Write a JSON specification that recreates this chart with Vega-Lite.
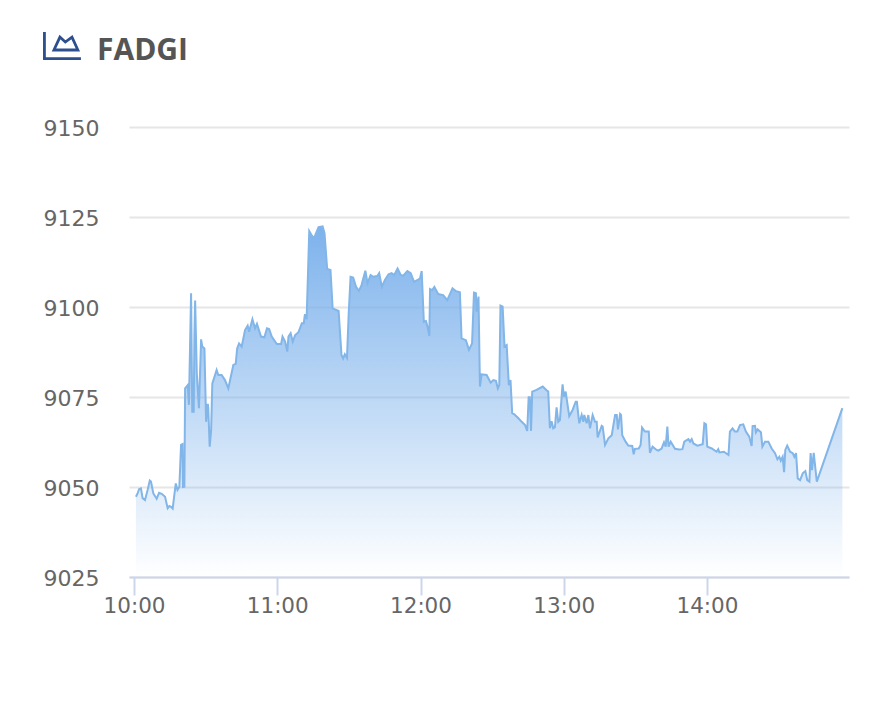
{"$schema":"https://vega.github.io/schema/vega-lite/v6.json","width":720,"height":450,"autosize":"none","padding":{"left":129,"top":127,"right":23,"bottom":151},"background":"white","config":{"view":{"stroke":null}},
"title":{"text":"FADGI","anchor":"start","frame":"group","dx":-32,"offset":-40,"font":"Open Sans","fontSize":30,"fontWeight":"bold","color":"#555555"},
"data":{"format":{"parse":{"t":"date:'%H:%M:%S'"}},"values":[
{"t":"10:00:48","v":9047.3},{"t":"10:01:30","v":9048.2},{"t":"10:02:06","v":9049.4},{"t":"10:02:54","v":9049.6},{"t":"10:03:36","v":9046.9},{"t":"10:04:36","v":9046.4},{"t":"10:05:42","v":9049.2},{"t":"10:06:36","v":9051.8},{"t":"10:07:06","v":9051.5},{"t":"10:08:06","v":9048.2},{"t":"10:09:30","v":9046.7},{"t":"10:10:30","v":9048.4},{"t":"10:11:36","v":9048.1},{"t":"10:13:00","v":9047.3},{"t":"10:14:06","v":9044.1},{"t":"10:14:48","v":9044.7},{"t":"10:15:30","v":9044.5},{"t":"10:16:12","v":9044},{"t":"10:16:48","v":9047.3},{"t":"10:17:30","v":9051},{"t":"10:18:12","v":9049.2},{"t":"10:19:00","v":9050.1},{"t":"10:19:42","v":9061.7},{"t":"10:20:18","v":9061.9},{"t":"10:20:30","v":9050},{"t":"10:21:06","v":9050.1},{"t":"10:21:24","v":9077.4},{"t":"10:22:30","v":9078.3},{"t":"10:23:00","v":9072.8},{"t":"10:23:54","v":9103.8},{"t":"10:24:24","v":9070.9},{"t":"10:25:00","v":9070.9},{"t":"10:25:18","v":9092.2},{"t":"10:25:36","v":9101.8},{"t":"10:26:18","v":9081.6},{"t":"10:27:12","v":9071.9},{"t":"10:28:06","v":9091},{"t":"10:28:36","v":9089},{"t":"10:29:30","v":9088.5},{"t":"10:30:12","v":9068.1},{"t":"10:30:54","v":9073.1},{"t":"10:31:06","v":9071.9},{"t":"10:31:42","v":9061.2},{"t":"10:32:18","v":9065.8},{"t":"10:32:48","v":9078.8},{"t":"10:33:42","v":9080.6},{"t":"10:34:36","v":9082.5},{"t":"10:35:18","v":9081.1},{"t":"10:36:42","v":9081.1},{"t":"10:38:06","v":9079.7},{"t":"10:39:30","v":9077.4},{"t":"10:41:36","v":9083.9},{"t":"10:42:36","v":9084.2},{"t":"10:43:12","v":9088.5},{"t":"10:44:00","v":9089.9},{"t":"10:45:06","v":9089},{"t":"10:46:30","v":9093.6},{"t":"10:47:36","v":9094.8},{"t":"10:48:12","v":9093.1},{"t":"10:49:36","v":9096.6},{"t":"10:50:42","v":9094.1},{"t":"10:51:30","v":9095.3},{"t":"10:53:12","v":9091.8},{"t":"10:54:36","v":9091.6},{"t":"10:55:42","v":9094.1},{"t":"10:56:36","v":9093.9},{"t":"10:57:42","v":9091.8},{"t":"10:59:48","v":9089.7},{"t":"11:01:36","v":9089.7},{"t":"11:02:12","v":9091.8},{"t":"11:03:18","v":9090.4},{"t":"11:04:12","v":9087.6},{"t":"11:04:42","v":9091.8},{"t":"11:05:36","v":9092.7},{"t":"11:06:30","v":9090.4},{"t":"11:07:30","v":9092.2},{"t":"11:08:54","v":9093},{"t":"11:10:18","v":9095.5},{"t":"11:11:06","v":9095.5},{"t":"11:11:36","v":9098},{"t":"11:12:18","v":9096.6},{"t":"11:13:24","v":9121.1},{"t":"11:14:30","v":9119.8},{"t":"11:15:24","v":9119.1},{"t":"11:17:18","v":9122.2},{"t":"11:19:00","v":9122.4},{"t":"11:19:48","v":9120.5},{"t":"11:20:54","v":9110.6},{"t":"11:22:18","v":9110.3},{"t":"11:23:12","v":9099.6},{"t":"11:25:42","v":9098.9},{"t":"11:26:54","v":9086.7},{"t":"11:27:36","v":9085.7},{"t":"11:28:18","v":9086.9},{"t":"11:29:12","v":9085.9},{"t":"11:29:54","v":9097.8},{"t":"11:30:42","v":9108.4},{"t":"11:31:48","v":9108.2},{"t":"11:33:00","v":9105.6},{"t":"11:34:12","v":9104.5},{"t":"11:35:18","v":9106.1},{"t":"11:36:54","v":9110.1},{"t":"11:37:48","v":9106.6},{"t":"11:39:06","v":9108.9},{"t":"11:40:12","v":9108.4},{"t":"11:41:54","v":9108.6},{"t":"11:42:42","v":9109.4},{"t":"11:43:48","v":9105.6},{"t":"11:45:06","v":9107.5},{"t":"11:46:36","v":9109.1},{"t":"11:47:54","v":9109.4},{"t":"11:49:00","v":9108.9},{"t":"11:50:24","v":9110.7},{"t":"11:51:42","v":9108.9},{"t":"11:52:48","v":9108.7},{"t":"11:54:30","v":9110},{"t":"11:55:54","v":9109.4},{"t":"11:57:18","v":9107},{"t":"11:58:48","v":9107.5},{"t":"11:59:48","v":9108},{"t":"12:00:30","v":9110},{"t":"12:01:24","v":9095.9},{"t":"12:02:18","v":9096.1},{"t":"12:03:06","v":9094.1},{"t":"12:03:42","v":9092},{"t":"12:04:00","v":9105},{"t":"12:04:54","v":9104.7},{"t":"12:05:48","v":9105.6},{"t":"12:07:24","v":9103.6},{"t":"12:09:30","v":9103.3},{"t":"12:11:12","v":9101.9},{"t":"12:13:24","v":9105.2},{"t":"12:14:54","v":9104.4},{"t":"12:16:30","v":9104.1},{"t":"12:17:12","v":9091.3},{"t":"12:19:00","v":9090.8},{"t":"12:20:18","v":9088.1},{"t":"12:21:36","v":9089.9},{"t":"12:22:24","v":9104},{"t":"12:23:12","v":9103.8},{"t":"12:23:30","v":9098.7},{"t":"12:24:18","v":9102.9},{"t":"12:24:54","v":9077.9},{"t":"12:25:36","v":9081.3},{"t":"12:27:42","v":9081.1},{"t":"12:29:24","v":9079},{"t":"12:30:30","v":9079.7},{"t":"12:31:36","v":9079.5},{"t":"12:32:24","v":9077.4},{"t":"12:33:00","v":9078.3},{"t":"12:33:30","v":9100.4},{"t":"12:34:24","v":9100.1},{"t":"12:35:12","v":9089},{"t":"12:36:06","v":9089.4},{"t":"12:37:00","v":9078.3},{"t":"12:37:42","v":9079.7},{"t":"12:38:24","v":9070.5},{"t":"12:39:18","v":9070.2},{"t":"12:41:00","v":9069.1},{"t":"12:42:24","v":9068.1},{"t":"12:43:48","v":9067.2},{"t":"12:44:42","v":9065.6},{"t":"12:45:18","v":9074.9},{"t":"12:45:48","v":9074.9},{"t":"12:46:18","v":9065.6},{"t":"12:46:48","v":9076.5},{"t":"12:48:36","v":9077},{"t":"12:51:12","v":9077.9},{"t":"12:52:48","v":9076.9},{"t":"12:53:30","v":9076.5},{"t":"12:54:12","v":9066.3},{"t":"12:54:54","v":9068.3},{"t":"12:55:36","v":9066.3},{"t":"12:56:18","v":9066.6},{"t":"12:57:00","v":9072.1},{"t":"12:57:42","v":9068.1},{"t":"12:58:24","v":9068.6},{"t":"12:59:30","v":9078.5},{"t":"13:00:06","v":9075.1},{"t":"13:00:48","v":9076.5},{"t":"13:02:18","v":9069.7},{"t":"13:03:42","v":9071.4},{"t":"13:05:00","v":9073.7},{"t":"13:05:30","v":9073.7},{"t":"13:06:30","v":9067.7},{"t":"13:07:30","v":9070},{"t":"13:08:12","v":9068.1},{"t":"13:08:36","v":9070},{"t":"13:09:36","v":9067.7},{"t":"13:10:18","v":9070},{"t":"13:11:00","v":9066.3},{"t":"13:12:06","v":9070},{"t":"13:13:06","v":9068.1},{"t":"13:13:48","v":9068.1},{"t":"13:14:12","v":9063.8},{"t":"13:15:54","v":9067},{"t":"13:16:18","v":9066.8},{"t":"13:17:18","v":9061.7},{"t":"13:18:42","v":9063.5},{"t":"13:20:06","v":9064.4},{"t":"13:21:30","v":9070},{"t":"13:22:12","v":9070},{"t":"13:22:42","v":9066},{"t":"13:23:36","v":9070.3},{"t":"13:24:00","v":9070},{"t":"13:24:30","v":9064.4},{"t":"13:25:54","v":9062.6},{"t":"13:27:00","v":9061.5},{"t":"13:28:42","v":9061.4},{"t":"13:29:18","v":9059.1},{"t":"13:29:48","v":9060.6},{"t":"13:31:24","v":9060.7},{"t":"13:32:12","v":9061.7},{"t":"13:32:48","v":9066.5},{"t":"13:34:00","v":9065.4},{"t":"13:35:36","v":9065.4},{"t":"13:36:06","v":9059.5},{"t":"13:37:12","v":9061.2},{"t":"13:38:54","v":9060.3},{"t":"13:39:36","v":9060.1},{"t":"13:41:00","v":9060.7},{"t":"13:42:00","v":9062.4},{"t":"13:42:42","v":9061.2},{"t":"13:43:24","v":9066.8},{"t":"13:43:54","v":9061.2},{"t":"13:44:48","v":9062.6},{"t":"13:46:36","v":9060.6},{"t":"13:48:18","v":9060.4},{"t":"13:49:42","v":9060.5},{"t":"13:50:30","v":9062.6},{"t":"13:52:12","v":9063.3},{"t":"13:52:54","v":9062.6},{"t":"13:53:36","v":9063.3},{"t":"13:54:18","v":9062.1},{"t":"13:56:00","v":9061.5},{"t":"13:58:12","v":9061.9},{"t":"13:58:54","v":9067.7},{"t":"13:59:36","v":9067.4},{"t":"14:00:06","v":9061.2},{"t":"14:02:00","v":9060.7},{"t":"14:04:00","v":9059.8},{"t":"14:04:42","v":9060.5},{"t":"14:05:12","v":9059.6},{"t":"14:07:06","v":9059.8},{"t":"14:09:00","v":9058.9},{"t":"14:09:36","v":9065.4},{"t":"14:10:42","v":9066.3},{"t":"14:11:42","v":9065.4},{"t":"14:12:42","v":9065.4},{"t":"14:13:48","v":9067.2},{"t":"14:15:12","v":9067.4},{"t":"14:16:18","v":9065.4},{"t":"14:17:42","v":9064},{"t":"14:18:42","v":9061.4},{"t":"14:19:06","v":9066.9},{"t":"14:20:06","v":9067},{"t":"14:20:30","v":9065.2},{"t":"14:21:12","v":9066},{"t":"14:22:36","v":9065.2},{"t":"14:23:12","v":9061.2},{"t":"14:24:18","v":9062.6},{"t":"14:25:42","v":9062.6},{"t":"14:27:06","v":9060.7},{"t":"14:28:30","v":9059.4},{"t":"14:29:30","v":9057.7},{"t":"14:30:18","v":9058.4},{"t":"14:30:54","v":9057.3},{"t":"14:31:42","v":9058.4},{"t":"14:32:18","v":9054.1},{"t":"14:32:48","v":9060.3},{"t":"14:33:36","v":9061.5},{"t":"14:34:48","v":9059.8},{"t":"14:35:54","v":9059.4},{"t":"14:36:36","v":9058.4},{"t":"14:37:18","v":9059.4},{"t":"14:38:00","v":9052.4},{"t":"14:39:00","v":9051.9},{"t":"14:40:06","v":9053.8},{"t":"14:41:12","v":9054.4},{"t":"14:42:00","v":9051.9},{"t":"14:42:54","v":9051.5},{"t":"14:43:24","v":9059.4},{"t":"14:44:00","v":9054.7},{"t":"14:44:42","v":9059.5},{"t":"14:46:00","v":9051.5},{"t":"14:56:42","v":9071.9}
]},
"encoding":{
"x":{"field":"t","type":"temporal","title":null,"scale":{"domain":[{"year":1900,"month":1,"date":1,"hours":9,"minutes":57,"seconds":54},{"year":1900,"month":1,"date":1,"hours":14,"minutes":59,"seconds":29}]},
"axis":{"format":"%H:%M","values":[{"year":1900,"month":1,"date":1,"hours":10},{"year":1900,"month":1,"date":1,"hours":11},{"year":1900,"month":1,"date":1,"hours":12},{"year":1900,"month":1,"date":1,"hours":13},{"year":1900,"month":1,"date":1,"hours":14}],"grid":false,"domainColor":"#ccd6eb","domainWidth":2,"tickColor":"#ccd6eb","tickWidth":2,"tickSize":18,"labelFont":"DejaVu Sans","labelFontSize":21.5,"labelColor":"#666666","labelPadding":0,"labelAngle":0,"labelFlush":false,"labelOverlap":false}},
"y":{"field":"v","type":"quantitative","title":null,"scale":{"domain":[9025,9150],"zero":false,"nice":false},
"axis":{"values":[9025,9050,9075,9100,9125,9150],"format":"d","domain":false,"ticks":false,"tickSize":0,"grid":true,"gridColor":"#e6e6e6","gridWidth":2,"labelFont":"DejaVu Sans","labelFontSize":22,"labelColor":"#666666","labelAlign":"left","labelBaseline":"middle","labelPadding":86,"labelOffset":1.5,"labelFlush":false,"labelOverlap":false}}
},
"layer":[
{"mark":{"type":"area","fill":{"gradient":"linear","x1":0,"y1":0,"x2":0,"y2":1,"stops":[{"offset":0,"color":"rgba(118,174,235,0.95)"},{"offset":1,"color":"rgba(118,174,235,0)"}]}},"encoding":{"y2":{"datum":9025}}},
{"mark":{"type":"line","color":"#82b5e8","strokeWidth":2}},
{"data":{"format":{"parse":{"t":"date:'%H:%M:%S'"}},"values":[{"t":"09:29:48","v":9172.5}]},
"mark":{"type":"point","filled":false,"opacity":1,"stroke":"#2d4f8e","strokeWidth":2.8,"size":1444,"shape":"M-0.92 -0.74L-0.92 0.66L1 0.66M-0.42 0.21L-0.105 -0.47L0.18 -0.21L0.53 -0.47L0.84 0.21Z"}}
]}
